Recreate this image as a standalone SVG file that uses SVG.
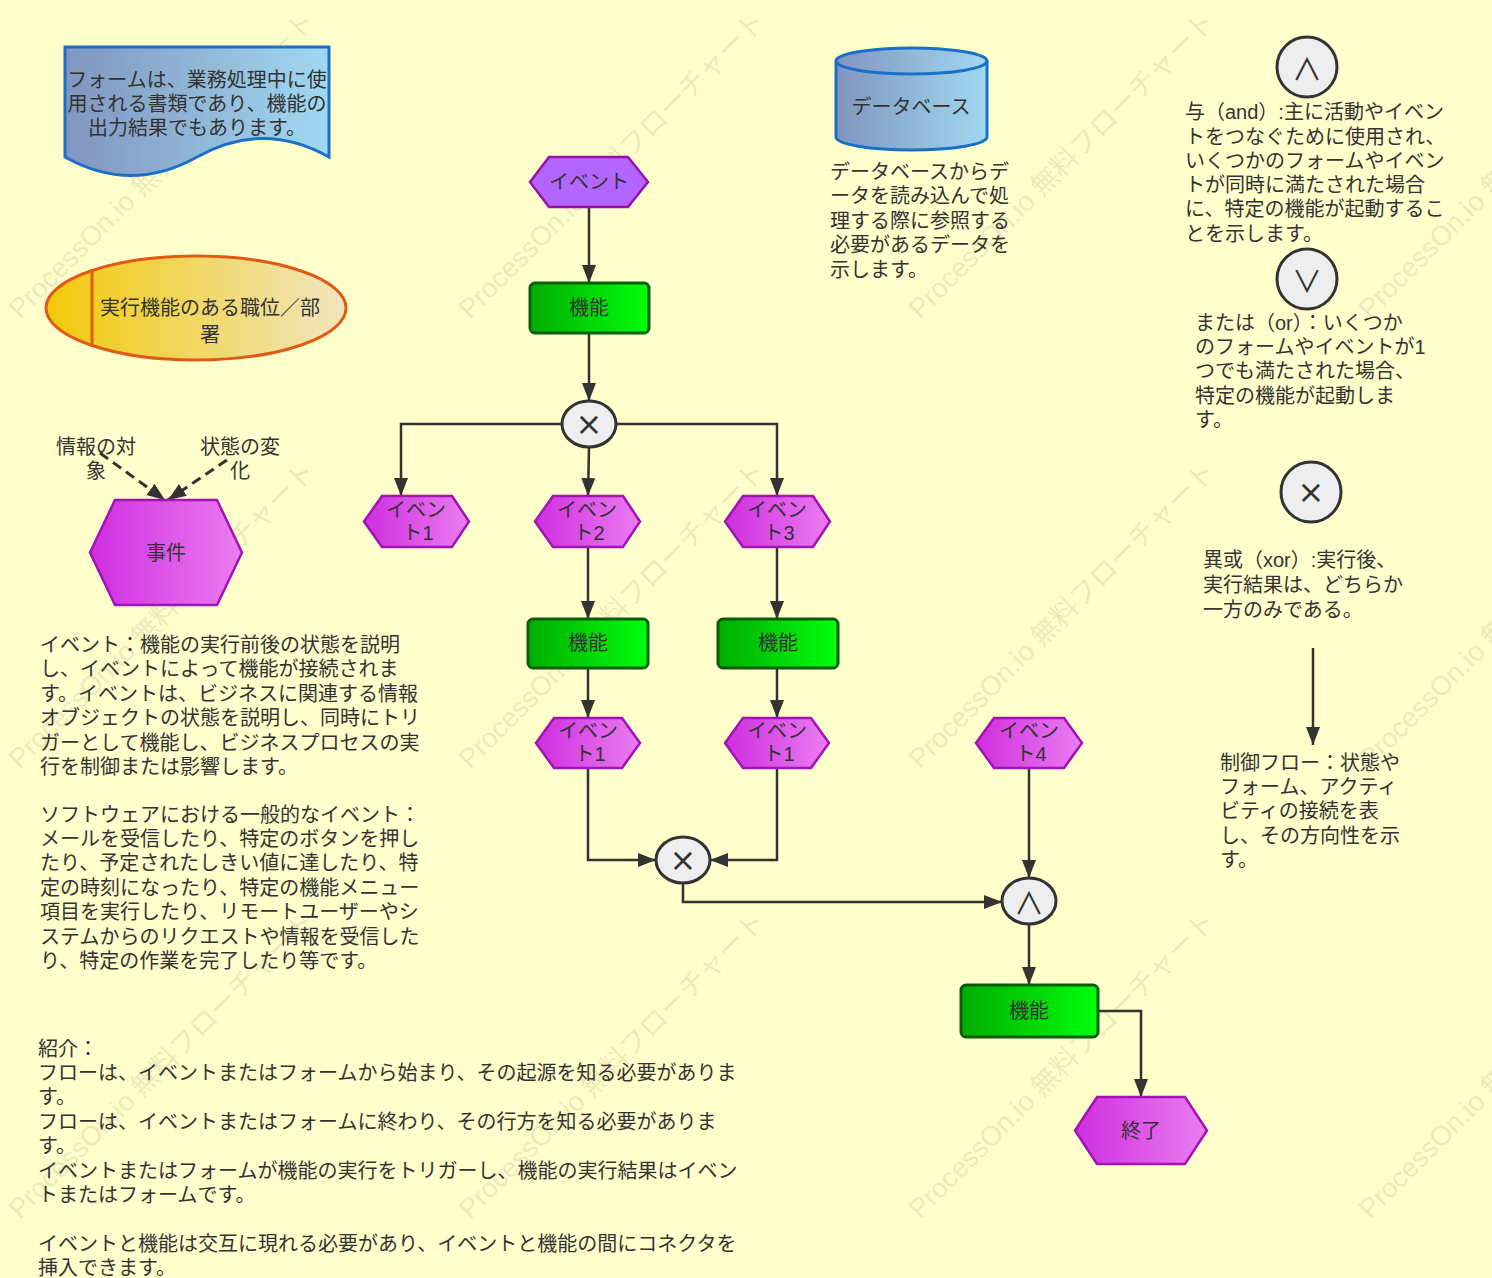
<svg xmlns="http://www.w3.org/2000/svg" width="1492" height="1278" viewBox="0 0 1492 1278">
<defs>
<linearGradient id="gDoc" x1="0" y1="0" x2="1" y2="0"><stop offset="0" stop-color="#8195bf"/><stop offset="1" stop-color="#a0d9f0"/></linearGradient>
<linearGradient id="gEll" x1="0" y1="0" x2="1" y2="0"><stop offset="0" stop-color="#f2c908"/><stop offset="1" stop-color="#f0e6c0"/></linearGradient>
<linearGradient id="gEvt" x1="0" y1="0" x2="1" y2="0"><stop offset="0" stop-color="#cf2ee0"/><stop offset="1" stop-color="#eb7df0"/></linearGradient>
<linearGradient id="gFn" x1="0" y1="0" x2="1" y2="0"><stop offset="0" stop-color="#00ad00"/><stop offset="1" stop-color="#00ff0c"/></linearGradient>
<marker id="ah" markerUnits="userSpaceOnUse" markerWidth="18" markerHeight="14" refX="18" refY="7" orient="auto"><path d="M0,0 L18,7 L0,14 Z" fill="#333"/></marker>
<style>
.t{font-family:"Liberation Sans","Noto Sans CJK JP",sans-serif;font-size:20px;fill:#333}
.m{text-anchor:middle}
.sym{font-family:"DejaVu Sans",sans-serif;font-size:32px;fill:#333;text-anchor:middle;dominant-baseline:central}
.sym2{font-family:"Noto Sans CJK JP",sans-serif;font-size:30px;fill:#333;text-anchor:middle;dominant-baseline:central}
.wm{font-family:"Liberation Sans","Noto Sans CJK JP",sans-serif;font-size:27.5px;fill:#8f8f70;opacity:0.18}
.evt{fill:url(#gEvt);stroke:#a312b3;stroke-width:2.5}
.fn{fill:url(#gFn);stroke:#0a5e0a;stroke-width:3}
.gate{fill:#eeeeee;stroke:#333;stroke-width:3}
.blue{fill:url(#gDoc);stroke:#1a6fc8;stroke-width:3}
.ln{fill:none;stroke:#333;stroke-width:2.5;marker-end:url(#ah)}
.dash{fill:none;stroke:#333;stroke-width:3;stroke-dasharray:10 6;marker-end:url(#ah)}
</style>
</defs>
<rect width="1492" height="1278" fill="#ffffcc"/>

<g id="watermark">
<text class="wm" transform="translate(20,320) rotate(-45)">ProcessOn.io 無料フローチャート</text>
<text class="wm" transform="translate(470,320) rotate(-45)">ProcessOn.io 無料フローチャート</text>
<text class="wm" transform="translate(920,320) rotate(-45)">ProcessOn.io 無料フローチャート</text>
<text class="wm" transform="translate(1370,320) rotate(-45)">ProcessOn.io 無料フローチャート</text>
<text class="wm" transform="translate(20,770) rotate(-45)">ProcessOn.io 無料フローチャート</text>
<text class="wm" transform="translate(470,770) rotate(-45)">ProcessOn.io 無料フローチャート</text>
<text class="wm" transform="translate(920,770) rotate(-45)">ProcessOn.io 無料フローチャート</text>
<text class="wm" transform="translate(1370,770) rotate(-45)">ProcessOn.io 無料フローチャート</text>
<text class="wm" transform="translate(20,1220) rotate(-45)">ProcessOn.io 無料フローチャート</text>
<text class="wm" transform="translate(470,1220) rotate(-45)">ProcessOn.io 無料フローチャート</text>
<text class="wm" transform="translate(920,1220) rotate(-45)">ProcessOn.io 無料フローチャート</text>
<text class="wm" transform="translate(1370,1220) rotate(-45)">ProcessOn.io 無料フローチャート</text>
</g>

<g id="connectors">
<path class="ln" d="M589,207 V283"/>
<path class="ln" d="M589,333 V401"/>
<path class="ln" d="M562,424 H401 V496"/>
<path class="ln" d="M589,447 L588,496"/>
<path class="ln" d="M616,424 H777 V496"/>
<path class="ln" d="M588,547 V619"/>
<path class="ln" d="M777,547 V619"/>
<path class="ln" d="M588,668 V718"/>
<path class="ln" d="M777,668 V718"/>
<path class="ln" d="M588,768 V860 H656"/>
<path class="ln" d="M777,768 V860 H710"/>
<path class="ln" d="M683,883 V902 H1002"/>
<path class="ln" d="M1029,768 V878"/>
<path class="ln" d="M1029,924 V985"/>
<path class="ln" d="M1098,1011 H1141 V1097"/>
<path class="dash" d="M100,453 L165,500"/>
<path class="dash" d="M227,460 L168,500"/>
<path class="ln" d="M1313,648 V745"/>
</g>

<g id="form-doc">
<path class="blue" d="M65,47 H329 V157 Q263,120 197,157 Q131,194 65,157 Z"/>
<text class="t m"><tspan x="197" y="87">フォームは、業務処理中に使</tspan><tspan x="197" y="111">用される書類であり、機能の</tspan><tspan x="197" y="135">出力結果でもあります。</tspan></text>
</g>

<g id="role-ellipse">
<ellipse cx="196" cy="308" rx="150" ry="52" fill="url(#gEll)" stroke="#e05a14" stroke-width="3"/>
<line x1="92" y1="270.5" x2="92" y2="345.5" stroke="#e05a14" stroke-width="3"/>
<text class="t m"><tspan x="210" y="315">実行機能のある職位／部</tspan><tspan x="210" y="342">署</tspan></text>
</g>

<g id="label-info">
<text class="t m"><tspan x="96" y="454">情報の対</tspan><tspan x="96" y="478">象</tspan></text>
</g>
<g id="label-state">
<text class="t m"><tspan x="240" y="454">状態の変</tspan><tspan x="240" y="478">化</tspan></text>
</g>

<g id="jiken">
<polygon class="evt" points="90,552.5 115,500 217,500 242,552.5 217,605 115,605"/>
<text class="t m" x="166" y="560">事件</text>
</g>

<g id="desc-event">
<text class="t"><tspan x="40" y="652">イベント：機能の実行前後の状態を説明</tspan><tspan x="40" y="676">し、イベントによって機能が接続されま</tspan><tspan x="40" y="701">す。イベントは、ビジネスに関連する情報</tspan><tspan x="40" y="725">オブジェクトの状態を説明し、同時にトリ</tspan><tspan x="40" y="750">ガーとして機能し、ビジネスプロセスの実</tspan><tspan x="40" y="774">行を制御または影響します。</tspan><tspan x="40" y="822">ソフトウェアにおける一般的なイベント：</tspan><tspan x="40" y="846">メールを受信したり、特定のボタンを押し</tspan><tspan x="40" y="870">たり、予定されたしきい値に達したり、特</tspan><tspan x="40" y="895">定の時刻になったり、特定の機能メニュー</tspan><tspan x="40" y="919">項目を実行したり、リモートユーザーやシ</tspan><tspan x="40" y="944">ステムからのリクエストや情報を受信した</tspan><tspan x="40" y="968">り、特定の作業を完了したり等です。</tspan></text>
</g>

<g id="desc-intro">
<text class="t"><tspan x="38" y="1056">紹介：</tspan><tspan x="38" y="1080">フローは、イベントまたはフォームから始まり、その起源を知る必要がありま</tspan><tspan x="38" y="1104">す。</tspan><tspan x="38" y="1129">フローは、イベントまたはフォームに終わり、その行方を知る必要がありま</tspan><tspan x="38" y="1153">す。</tspan><tspan x="38" y="1178">イベントまたはフォームが機能の実行をトリガーし、機能の実行結果はイベン</tspan><tspan x="38" y="1202">トまたはフォームです。</tspan><tspan x="38" y="1251">イベントと機能は交互に現れる必要があり、イベントと機能の間にコネクタを</tspan><tspan x="38" y="1275">挿入できます。</tspan></text>
</g>

<g id="database">
<path class="blue" d="M836,61 V137 A75.5,13 0 0 0 987,137 V61"/>
<ellipse class="blue" cx="911.5" cy="61" rx="75.5" ry="13"/>
<text class="t m" x="911" y="114">データベース</text>
</g>
<g id="desc-db">
<text class="t"><tspan x="830" y="179">データベースからデ</tspan><tspan x="830" y="203">ータを読み込んで処</tspan><tspan x="830" y="228">理する際に参照する</tspan><tspan x="830" y="252">必要があるデータを</tspan><tspan x="830" y="277">示します。</tspan></text>
</g>

<g id="ev-start">
<polygon points="530,182 549,157 628,157 648,182 628,207 549,207" fill="#b266ff" stroke="#9a10a8" stroke-width="2.5"/>
<text class="t m" x="589" y="189">イベント</text>
</g>
<g id="fn-1">
<rect class="fn" x="530" y="283" width="119" height="50" rx="5"/>
<text class="t m" x="589" y="315">機能</text>
</g>
<g id="xor-1">
<ellipse class="gate" cx="589" cy="424" rx="27" ry="23"/>
<text class="sym" x="589" y="424">×</text>
</g>
<g id="ev-1">
<polygon class="evt" points="364,521.5 382,496 452,496 469,521.5 452,547 382,547"/>
<text class="t m"><tspan x="416" y="517">イベン</tspan><tspan x="418" y="540">ト1</tspan></text>
</g>
<g id="ev-2">
<polygon class="evt" points="535,521.5 553,496 623,496 640,521.5 623,547 553,547"/>
<text class="t m"><tspan x="587" y="517">イベン</tspan><tspan x="589" y="540">ト2</tspan></text>
</g>
<g id="ev-3">
<polygon class="evt" points="725,521.5 743,496 813,496 830,521.5 813,547 743,547"/>
<text class="t m"><tspan x="777" y="517">イベン</tspan><tspan x="779" y="540">ト3</tspan></text>
</g>
<g id="fn-2">
<rect class="fn" x="528" y="619" width="120" height="49" rx="5"/>
<text class="t m" x="588" y="650">機能</text>
</g>
<g id="fn-3">
<rect class="fn" x="718" y="619" width="120" height="49" rx="5"/>
<text class="t m" x="778" y="650">機能</text>
</g>
<g id="ev-4">
<polygon class="evt" points="536,743 554,718 622,718 640,743 622,768 554,768"/>
<text class="t m"><tspan x="588" y="738">イベン</tspan><tspan x="590" y="761">ト1</tspan></text>
</g>
<g id="ev-5">
<polygon class="evt" points="725,743 743,718 811,718 829,743 811,768 743,768"/>
<text class="t m"><tspan x="777" y="738">イベン</tspan><tspan x="779" y="761">ト1</tspan></text>
</g>
<g id="ev-6">
<polygon class="evt" points="976,743 994,718 1064,718 1082,743 1064,768 994,768"/>
<text class="t m"><tspan x="1029" y="738">イベン</tspan><tspan x="1031" y="761">ト4</tspan></text>
</g>
<g id="xor-2">
<ellipse class="gate" cx="683" cy="860" rx="27" ry="23"/>
<text class="sym" x="683" y="860">×</text>
</g>
<g id="and-1">
<ellipse class="gate" cx="1029" cy="901" rx="27" ry="23"/>
<text class="sym2" x="1029" y="901">∧</text>
</g>
<g id="fn-4">
<rect class="fn" x="961" y="985" width="137" height="52" rx="5"/>
<text class="t m" x="1029" y="1018">機能</text>
</g>
<g id="ev-end">
<polygon class="evt" points="1075,1130.5 1097,1097 1185,1097 1207,1130.5 1185,1164 1097,1164"/>
<text class="t m" x="1141" y="1138">終了</text>
</g>

<g id="legend-and">
<circle class="gate" cx="1307" cy="67" r="30"/>
<text class="sym2" x="1307" y="67">∧</text>
<text class="t"><tspan x="1185" y="119">与（and）:主に活動やイベン</tspan><tspan x="1185" y="144">トをつなぐために使用され、</tspan><tspan x="1185" y="168">いくつかのフォームやイベン</tspan><tspan x="1185" y="192">トが同時に満たされた場合</tspan><tspan x="1185" y="216">に、特定の機能が起動するこ</tspan><tspan x="1185" y="241">とを示します。</tspan></text>
</g>
<g id="legend-or">
<circle class="gate" cx="1307" cy="279" r="30"/>
<text class="sym2" x="1307" y="279">∨</text>
<text class="t"><tspan x="1195" y="330">または（or）：いくつか</tspan><tspan x="1195" y="354">のフォームやイベントが1</tspan><tspan x="1195" y="378">つでも満たされた場合、</tspan><tspan x="1195" y="403">特定の機能が起動しま</tspan><tspan x="1195" y="427">す。</tspan></text>
</g>
<g id="legend-xor">
<circle class="gate" cx="1311" cy="492" r="30"/>
<text class="sym" x="1311" y="492">×</text>
<text class="t"><tspan x="1203" y="567">異或（xor）:実行後、</tspan><tspan x="1203" y="592">実行結果は、どちらか</tspan><tspan x="1203" y="617">一方のみである。</tspan></text>
</g>
<g id="legend-flow">
<text class="t"><tspan x="1220" y="770">制御フロー：状態や</tspan><tspan x="1220" y="794">フォーム、アクティ</tspan><tspan x="1220" y="818">ビティの接続を表</tspan><tspan x="1220" y="843">し、その方向性を示</tspan><tspan x="1220" y="867">す。</tspan></text>
</g>
</svg>
